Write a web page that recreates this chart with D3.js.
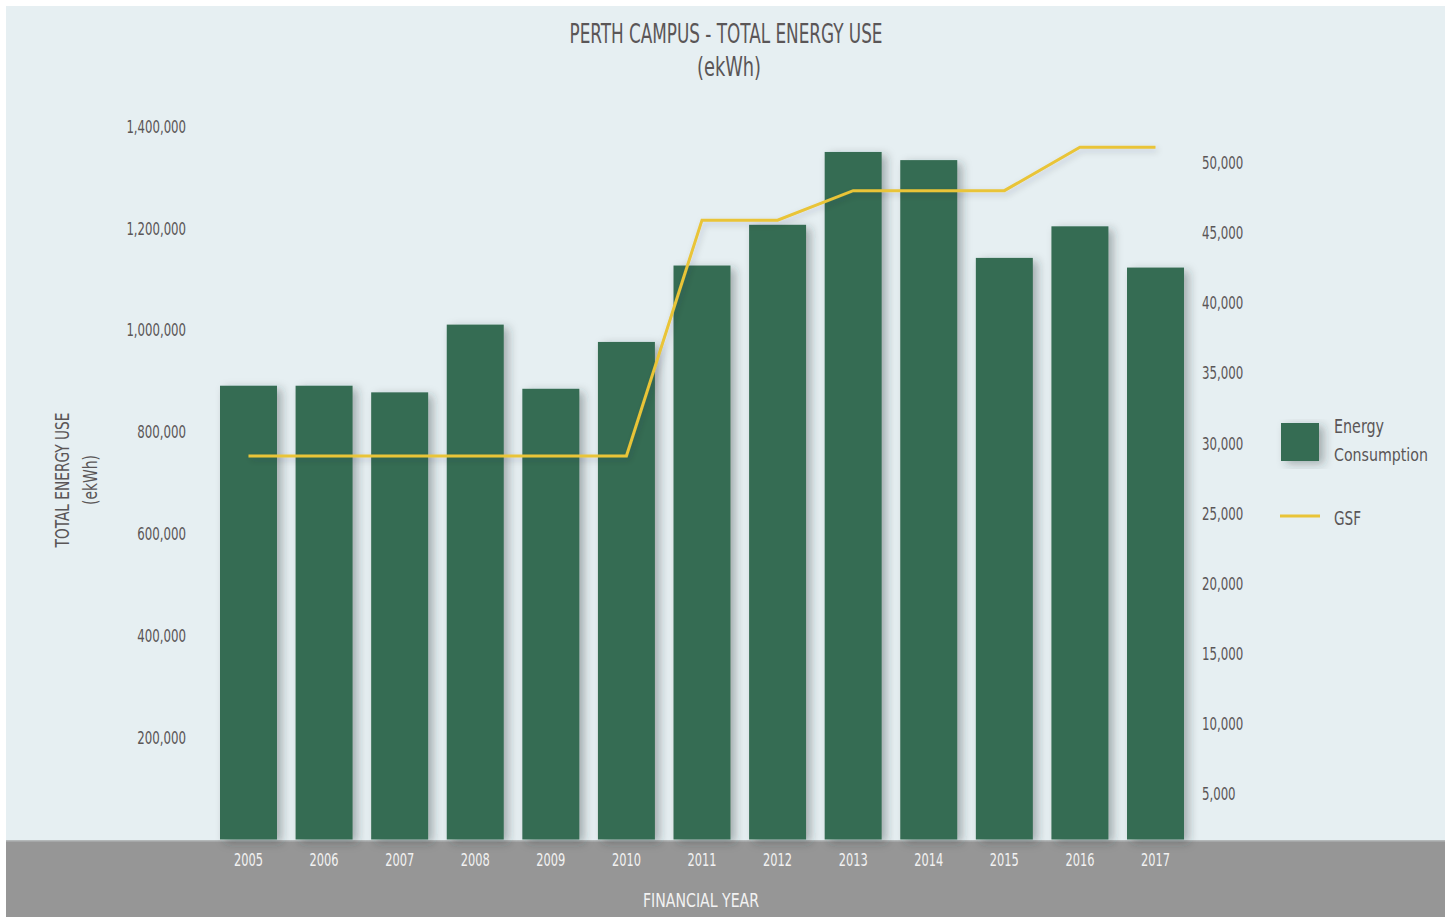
<!DOCTYPE html>
<html>
<head>
<meta charset="utf-8">
<script src="https://cdn.jsdelivr.net/npm/d3@7"></script>
<style>
  html, body { margin: 0; padding: 0; background: #ffffff; }
  svg { display: block; }
  text { font-family: "DejaVu Sans Condensed", "Liberation Sans Narrow", "Roboto", sans-serif; }
</style>
</head>
<body>
<svg id="chart" width="1449" height="917"></svg>
<script>
// Financial years and the two series
const years = ["2005", "2006", "2007", "2008", "2009", "2010", "2011", "2012", "2013", "2014", "2015", "2016", "2017"];
const energyUse = [891000, 891000, 878000, 1011000, 885000, 977000, 1127000, 1207000, 1350000, 1334000, 1142000, 1204000, 1123000];
const gsf = [29100, 29100, 29100, 29100, 29100, 29100, 45900, 45900, 48000, 48000, 48000, 51100, 51100];

// Axis ticks
const leftTicks = [200000, 400000, 600000, 800000, 1000000, 1200000, 1400000];
const rightTicks = [5000, 10000, 15000, 20000, 25000, 30000, 35000, 40000, 45000, 50000];

const W = 1449, H = 917;
const svg = d3.select("#chart");

// Narrow lettering: width of a label from its digits and commas
const labelWidth = s => (s.replace(/[^0-9]/g, "").length * 7.6 + (s.split(",").length - 1) * 3.2);

const defs = svg.append("defs");
const shadow = defs.append("filter").attr("id", "barShadow")
  .attr("x", "-30%").attr("y", "-10%").attr("width", "180%").attr("height", "130%");
shadow.append("feDropShadow")
  .attr("dx", 5).attr("dy", 3).attr("stdDeviation", 5)
  .attr("flood-color", "#2b3236").attr("flood-opacity", 0.35);

const lineShadow = defs.append("filter").attr("id", "lineShadow")
  .attr("x", "-10%").attr("y", "-20%").attr("width", "120%").attr("height", "140%");
lineShadow.append("feDropShadow")
  .attr("dx", 2).attr("dy", 3).attr("stdDeviation", 3)
  .attr("flood-color", "#2b3236").attr("flood-opacity", 0.18);

// Panel background and footer band
svg.append("rect").attr("x", 6).attr("y", 6).attr("width", 1439).attr("height", H - 6).attr("fill", "#e6eff2");
svg.append("rect").attr("x", 6).attr("y", 840).attr("width", 1439).attr("height", H - 840).attr("fill", "#969696");
svg.append("rect").attr("x", 6).attr("y", 840).attr("width", 1439).attr("height", 1.5).attr("fill", "#b4b8b9");

// Scales
const x = d3.scaleBand().domain(years).range([210.7, 1193.3]).paddingInner(0.246).paddingOuter(0.123);
const yLeft = d3.scaleLinear().domain([0, 1400000]).range([839.5, 126.5]);
const yRight = d3.scaleLinear().domain([0, 50000]).range([864.4, 162.6]);

const textGrey = "#5a5657";
const narrow = "\"DejaVu Sans Condensed\", \"Liberation Sans Narrow\", sans-serif";

// Title
const title = svg.append("text").attr("x", 726).attr("text-anchor", "middle").attr("fill", textGrey)
  .style("font-size", "26px");
title.append("tspan").attr("x", 726).attr("y", 43).attr("textLength", 313).attr("lengthAdjust", "spacingAndGlyphs")
  .text("PERTH CAMPUS - TOTAL ENERGY USE");
title.append("tspan").attr("x", 729).attr("y", 76).attr("textLength", 64).attr("lengthAdjust", "spacingAndGlyphs")
  .text("(ekWh)");

// Left axis
const leftAxis = d3.axisLeft(yLeft).tickValues(leftTicks).tickFormat(d3.format(",")).tickSize(0).tickPadding(0);
const gl = svg.append("g").attr("transform", "translate(186,0)").call(leftAxis);
gl.select(".domain").remove();
gl.selectAll("text").attr("fill", textGrey).style("font-size", "18px").style("font-family", narrow)
  .attr("textLength", function () { return labelWidth(this.textContent); })
  .attr("lengthAdjust", "spacingAndGlyphs");

// Right axis
const rightAxis = d3.axisRight(yRight).tickValues(rightTicks).tickFormat(d3.format(",")).tickSize(0).tickPadding(0);
const gr = svg.append("g").attr("transform", "translate(1202,0)").call(rightAxis);
gr.select(".domain").remove();
gr.selectAll("text").attr("fill", textGrey).style("font-size", "18px").style("font-family", narrow)
  .attr("textLength", function () { return labelWidth(this.textContent); })
  .attr("lengthAdjust", "spacingAndGlyphs");

// Left axis title
const yt = svg.append("g").attr("transform", "translate(0,480) rotate(-90)");
yt.append("text").attr("x", 0).attr("y", 69).attr("text-anchor", "middle").attr("fill", textGrey)
  .style("font-size", "19px").attr("textLength", 135).attr("lengthAdjust", "spacingAndGlyphs").text("TOTAL ENERGY USE");
yt.append("text").attr("x", 0).attr("y", 97).attr("text-anchor", "middle").attr("fill", textGrey)
  .style("font-size", "19px").attr("textLength", 50).attr("lengthAdjust", "spacingAndGlyphs").text("(ekWh)");

// Bars
svg.append("g").selectAll("rect").data(years).join("rect")
  .attr("x", d => x(d))
  .attr("y", (d, i) => yLeft(energyUse[i]))
  .attr("width", x.bandwidth())
  .attr("height", (d, i) => yLeft(0) - yLeft(energyUse[i]))
  .attr("fill", "#366c53")
  .attr("filter", "url(#barShadow)");

// GSF line
const line = d3.line().x((d, i) => x(years[i]) + x.bandwidth() / 2).y(d => yRight(d));
svg.append("path").datum(gsf).attr("d", line)
  .attr("fill", "none").attr("stroke", "#e9c437").attr("stroke-width", 3)
  .attr("stroke-linejoin", "miter").attr("filter", "url(#lineShadow)");

// X axis labels in the footer band
const xAxis = d3.axisBottom(x).tickSize(0).tickPadding(0);
const gx = svg.append("g").attr("transform", "translate(0,866)").call(xAxis);
gx.select(".domain").remove();
gx.selectAll("text").attr("fill", "#f2f2f2").attr("dy", 0).style("font-size", "18px").style("font-family", narrow)
  .attr("textLength", 29).attr("lengthAdjust", "spacingAndGlyphs");

svg.append("text").attr("x", 701).attr("y", 907).attr("text-anchor", "middle").attr("fill", "#f2f2f2")
  .style("font-size", "20px").attr("textLength", 116).attr("lengthAdjust", "spacingAndGlyphs").text("FINANCIAL YEAR");

// Legend
const legend = svg.append("g");
legend.append("rect").attr("x", 1281).attr("y", 423).attr("width", 38).attr("height", 38)
  .attr("fill", "#366c53").attr("filter", "url(#barShadow)");
legend.append("text").attr("x", 1334).attr("y", 433).attr("fill", textGrey).style("font-size", "19px")
  .attr("textLength", 50).attr("lengthAdjust", "spacingAndGlyphs").text("Energy");
legend.append("text").attr("x", 1334).attr("y", 461).attr("fill", textGrey).style("font-size", "18.5px")
  .attr("textLength", 94).attr("lengthAdjust", "spacingAndGlyphs").text("Consumption");
legend.append("line").attr("x1", 1280).attr("x2", 1320).attr("y1", 516).attr("y2", 516)
  .attr("stroke", "#e9c437").attr("stroke-width", 3);
legend.append("text").attr("x", 1334).attr("y", 525).attr("fill", textGrey).style("font-size", "19px")
  .attr("textLength", 27).attr("lengthAdjust", "spacingAndGlyphs").text("GSF");
</script>
</body>
</html>
